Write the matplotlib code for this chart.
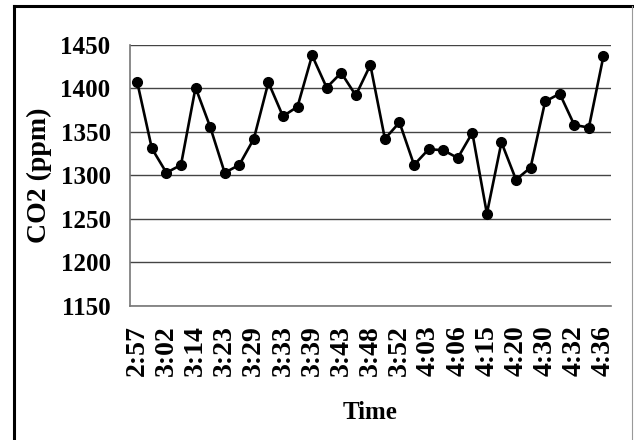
import matplotlib
matplotlib.use("Agg")
import matplotlib.pyplot as plt
from matplotlib.lines import Line2D
from matplotlib import rcParams

rcParams['font.family'] = ['Liberation Serif', 'DejaVu Serif']
rcParams['font.weight'] = 'bold'

# CO2 readings, one per sample (33 samples)
co2_ppm = [1407, 1331, 1303, 1312, 1401, 1356, 1303, 1312, 1342, 1407,
           1368, 1379, 1438, 1401, 1418, 1392, 1427, 1342, 1361, 1312,
           1330, 1329, 1320, 1349, 1256, 1338, 1295, 1309, 1385, 1394,
           1358, 1355, 1437]

# only every second sample carries a time label
time_labels = ['2:57', '3:02', '3:14', '3:23', '3:29', '3:33', '3:39', '3:43',
               '3:48', '3:52', '4:03', '4:06', '4:15', '4:20', '4:30', '4:32',
               '4:36']

y_ticks = [1150, 1200, 1250, 1300, 1350, 1400, 1450]

W, H = 634, 440
fig = plt.figure(figsize=(W / 100, H / 100), dpi=100)
ax = fig.add_axes([130 / W, 1 - 305.7 / H, 480.7 / W, 260.7 / H])

x = list(range(len(co2_ppm)))
ax.plot(x, co2_ppm, color='black', linewidth=1.9, marker='o', markersize=7, zorder=3)

ax.set_xlim(-0.5, len(co2_ppm) - 0.5)
ax.set_ylim(1150, 1450)
ax.set_yticks(y_ticks)
ax.set_xticks(x[::2])
ax.set_xticklabels(time_labels, rotation=90)

ax.grid(True, axis='y', color='#444444', linewidth=1.0)
ax.set_axisbelow(True)
for side in ['top', 'right']:
    ax.spines[side].set_visible(False)
for side in ['left', 'bottom']:
    ax.spines[side].set_color('#777777')
    ax.spines[side].set_linewidth(1.2)

ax.tick_params(axis='y', length=0, pad=14, labelsize=18)
ax.tick_params(axis='x', length=0, pad=14, labelsize=20)
for lab in ax.get_xticklabels() + ax.get_yticklabels():
    lab.set_fontweight('bold')

ax.set_xlabel('Time', fontsize=18, fontweight='bold', labelpad=18)
ax.set_ylabel('CO2 (ppm)', fontsize=20, fontweight='bold', labelpad=6)

# outer frame around the picture
fig.add_artist(Line2D([14 / W, 1], [1 - 6 / H, 1 - 6 / H], color='black', linewidth=2.2))
fig.add_artist(Line2D([14 / W, 14 / W], [0, 1 - 6 / H], color='black', linewidth=2.2))
fig.add_artist(Line2D([631.5 / W, 631.5 / W], [0, 1 - 6 / H], color='#999999', linewidth=0.8))

fig.savefig('out.png', dpi=100)
